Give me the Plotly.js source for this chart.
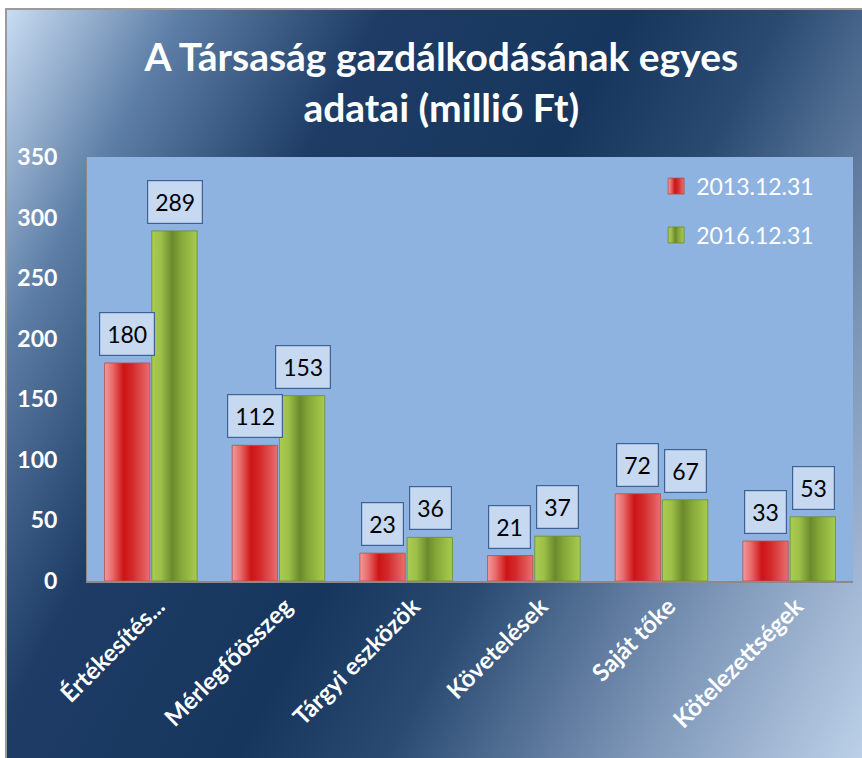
<!DOCTYPE html>
<html>
<head>
<meta charset="utf-8">
<script src="https://cdn.plot.ly/plotly-3.0.1.min.js"></script>
<style>
  html, body { margin: 0; padding: 0; background: #ffffff; }
  #wrap { position: absolute; left: 0; top: 0; width: 862px; height: 758px; }
  #bg { position: absolute; left: 5px; top: 8px; width: 857px; height: 750px;
        border-left: 2px solid #9a9a9a; border-top: 2px solid #9a9a9a; box-sizing: border-box;
        background: linear-gradient(118deg, #c9dcf2 0%, #5d7ea6 14%, #1e3c65 30%, #17365d 50%, #2a4a72 62%, #7f98b9 82%, #bcd0e8 100%); }
  #chart { position: absolute; left: 0; top: 0; width: 862px; height: 758px; }
</style>
</head>
<body>
<div id="wrap"><div id="bg"></div><div id="chart"></div></div>
<script>
const categories = ["Értékesítés...", "Mérlegfőösszeg", "Tárgyi eszközök", "Követelések", "Saját tőke", "Kötelezettségek"];
const series2013 = [180, 112, 23, 21, 72, 33];
const series2016 = [289, 153, 36, 37, 67, 53];
const seriesNames = ["2013.12.31", "2016.12.31"];
const yTicks = [0, 50, 100, 150, 200, 250, 300, 350];

const FONT = "Lato, 'Open Sans', sans-serif";

const traces = [
  { type: "bar", name: seriesNames[0], x: categories, y: series2013,
    marker: { color: "#dc2a2e", line: { color: "#b05050", width: 0.8 } },
    legendgroup: "a", hoverinfo: "x+y" },
  { type: "bar", name: seriesNames[1], x: categories, y: series2016,
    marker: { color: "#8fb33a", line: { color: "#6a8a30", width: 0.8 } },
    legendgroup: "b", hoverinfo: "x+y" }
];

const annotations = [];
function addLabels(vals, shift) {
  vals.forEach((v, i) => {
    annotations.push({
      x: categories[i], y: v, xref: "x", yref: "y", text: String(v),
      showarrow: false, xshift: shift, yshift: 7, yanchor: "bottom",
      font: { family: FONT, size: 23, color: "#000000" },
      bgcolor: "#c6d9f1", bordercolor: "#3d6296", borderwidth: 1.2, borderpad: 7
    });
  });
}
addLabels(series2013, -24);
addLabels(series2016, 24);

const layout = {
  width: 862, height: 758,
  margin: { l: 87, r: 9, t: 157, b: 177 },
  paper_bgcolor: "rgba(0,0,0,0)",
  plot_bgcolor: "#8fb3e0",
  title: {
    text: "A Társaság gazdálkodásának egyes<br>adatai (millió Ft)",
    font: { family: FONT, size: 39, color: "#ffffff", weight: "bold" },
    x: 0.512, xanchor: "center", y: 1 - 71 / 758, yanchor: "middle"
  },
  barmode: "group", bargap: 0.26, bargroupgap: 0.04,
  showlegend: true,
  legend: {
    x: 0.743, y: 0.982, xanchor: "left", yanchor: "top",
    bgcolor: "rgba(0,0,0,0)", borderwidth: 0,
    font: { family: FONT, size: 23, color: "#ffffff" },
    traceorder: "grouped", tracegroupgap: 16
  },
  xaxis: {
    type: "category", tickangle: -45, showgrid: false, zeroline: false,
    showline: true, linecolor: "#8a8a8a", linewidth: 2, ticks: "",
    ticklabelshift: 7,
    tickfont: { family: FONT, size: 24, color: "#ffffff", weight: "bold" }
  },
  yaxis: {
    range: [0, 350], tickvals: yTicks, ticktext: yTicks.map(String),
    showgrid: false, zeroline: false, showline: true, linecolor: "#8a8a8a", linewidth: 1,
    ticks: "", ticklabelstandoff: 24,
    tickfont: { family: FONT, size: 23, color: "#ffffff", weight: "bold" }
  },
  annotations: annotations
};

Plotly.newPlot("chart", traces, layout, { displayModeBar: false, staticPlot: true }).then(function (gd) {
  const svg = gd.querySelector("svg.main-svg");
  const ns = "http://www.w3.org/2000/svg";
  let defs = svg.querySelector("defs");
  if (!defs) { defs = document.createElementNS(ns, "defs"); svg.insertBefore(defs, svg.firstChild); }
  function grad(id, stops) {
    const g = document.createElementNS(ns, "linearGradient");
    g.setAttribute("id", id); g.setAttribute("x1", "0"); g.setAttribute("x2", "1");
    g.setAttribute("y1", "0"); g.setAttribute("y2", "0");
    stops.forEach(s => {
      const st = document.createElementNS(ns, "stop");
      st.setAttribute("offset", s[0]); st.setAttribute("stop-color", s[1]);
      g.appendChild(st);
    });
    defs.appendChild(g);
  }
  grad("gRed", [["0", "#f39a9a"], ["0.18", "#ea6a6a"], ["0.42", "#cc1416"], ["0.62", "#d42a2c"], ["1", "#e87070"]]);
  grad("gGreen", [["0", "#a9cc52"], ["0.2", "#9ec048"], ["0.45", "#6a8a2c"], ["0.65", "#86a838"], ["1", "#a8cc50"]]);
  const ids = ["gRed", "gGreen"];
  gd.querySelectorAll(".barlayer .trace").forEach((t, i) => {
    t.querySelectorAll("path").forEach(p => { p.style.fill = "url(#" + ids[i] + ")"; });
  });
  gd.querySelectorAll(".legend .traces").forEach((t, i) => {
    t.querySelectorAll(".legendpoints path").forEach(p => {
      p.setAttribute("d", "M8,8H-8V-8H8Z");
      p.style.fill = "url(#" + ids[i] + ")";
    });
  });
});
</script>
</body>
</html>
